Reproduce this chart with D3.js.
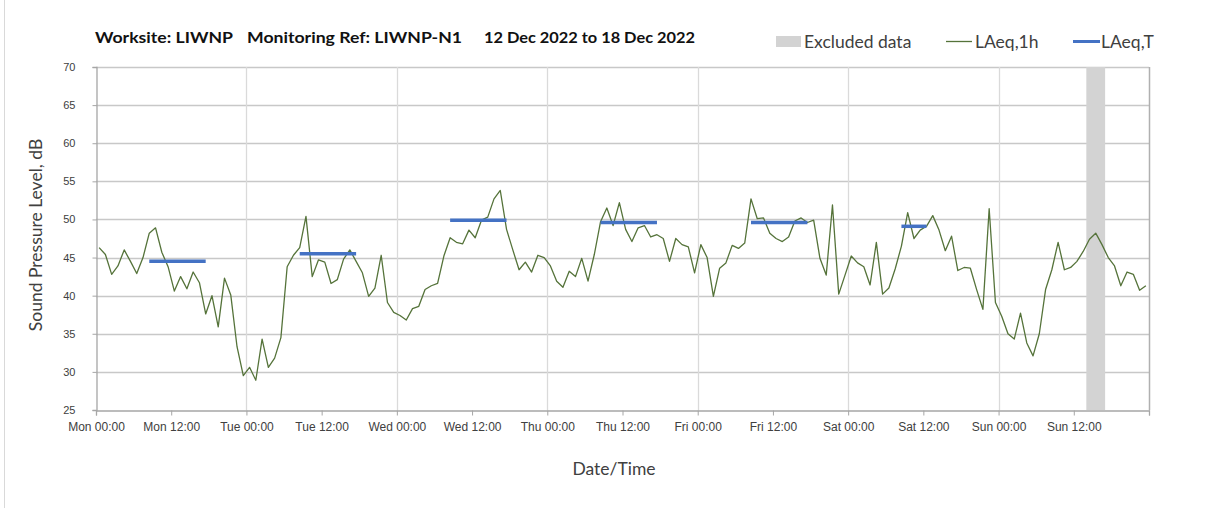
<!DOCTYPE html>
<html>
<head>
<meta charset="utf-8">
<script src="https://cdn.jsdelivr.net/npm/d3@7"></script>
<style>
  body { margin: 0; background: #fff; }
  svg { font-family: Lato, "Open Sans", sans-serif; }
</style>
</head>
<body>
<svg id="chart" width="1208" height="508"></svg>
<script>
// hourly LAeq,1h values, Mon 00:00 -> Sun 23:00
const laeq1h = [
  46.3, 45.4, 42.8, 43.9, 46.0, 44.5, 42.9, 45.0, 48.2, 48.9,
  45.7, 43.8, 40.6, 42.5, 40.9, 43.1, 41.7, 37.6, 40.0, 35.9,
  42.3, 40.1, 33.3, 29.5, 30.6, 28.9, 34.3, 30.6, 31.8, 34.5,
  43.8, 45.3, 46.3, 50.4, 42.5, 44.7, 44.4, 41.6, 42.1, 44.8,
  46.0, 44.5, 43.0, 39.9, 41.0, 45.3, 39.1, 37.8, 37.4, 36.8,
  38.3, 38.6, 40.8, 41.3, 41.6, 45.2, 47.6, 47.0, 46.8, 48.6,
  47.6, 49.9, 50.3, 52.7, 53.8, 48.7, 46.0, 43.4, 44.4, 43.1,
  45.3, 45.0, 43.9, 41.9, 41.1, 43.2, 42.5, 44.9, 41.9, 45.4,
  49.7, 51.5, 49.2, 52.2, 48.7, 47.1, 48.9, 49.2, 47.7, 48.0,
  47.5, 44.5, 47.5, 46.7, 46.4, 43.0, 46.7, 45.0, 39.9, 43.6,
  44.3, 46.6, 46.2, 46.9, 52.7, 50.1, 50.2, 48.2, 47.5, 47.1,
  47.7, 49.8, 50.2, 49.6, 49.9, 44.9, 42.7, 51.9, 40.2, 42.7,
  45.2, 44.3, 43.8, 41.4, 47.0, 40.2, 41.0, 43.5, 46.5, 50.9,
  47.5, 48.6, 49.1, 50.5, 48.6, 45.9, 47.8, 43.3, 43.7, 43.6,
  40.8, 38.2, 51.4, 39.1, 37.3, 35.0, 34.3, 37.7, 33.8, 32.1,
  35.0, 40.8, 43.4, 47.0, 43.4, 43.7, 44.5, 45.8, 47.4, 48.2,
  46.7, 45.0, 43.9, 41.3, 43.1, 42.8, 40.7, 41.3
];

// LAeq,T daytime periods (hours from Mon 00:00)
const laeqTStart = [8.5, 32.5, 56.5, 80.5, 104.5, 128.5];
const laeqTEnd = [17.5, 41.5, 65.5, 89.5, 113.5, 132.5];
const laeqTValues = [44.5, 45.5, 49.9, 49.6, 49.6, 49.1];

// excluded data window (hours)
const excludedStart = [158];
const excludedEnd = [161];

const tickHours = [0, 12, 24, 36, 48, 60, 72, 84, 96, 108, 120, 132, 144, 156];
const tickLabels = ["Mon 00:00", "Mon 12:00", "Tue 00:00", "Tue 12:00", "Wed 00:00", "Wed 12:00",
  "Thu 00:00", "Thu 12:00", "Fri 00:00", "Fri 12:00", "Sat 00:00", "Sat 12:00", "Sun 00:00", "Sun 12:00"];
const dayHours = [24, 48, 72, 96, 120, 144, 168];
const yTicks = [25, 30, 35, 40, 45, 50, 55, 60, 65, 70];

var svg = d3.select('#chart');

var xScale = d3.scaleLinear().domain([0, 168]).range([96, 1149]);
var yScale = d3.scaleLinear().domain([25, 70]).range([410, 67]);

// outer left edge
svg.append("line")
    .attr("x1", 4.5).attr("x2", 4.5)
    .attr("y1", 0).attr("y2", 508)
    .style("stroke", "#d9d9d9");

// horizontal gridlines
svg.append("g")
    .selectAll("line")
    .data(yTicks.slice(1))
    .enter()
    .append("line")
    .attr("x1", xScale(0)).attr("x2", xScale(168))
    .attr("y1", d => Math.round(yScale(d)) + 0.5)
    .attr("y2", d => Math.round(yScale(d)) + 0.5)
    .style("stroke", "#c8c8c8")
    .style("stroke-width", 1.3);

// vertical day gridlines
svg.append("g")
    .selectAll("line")
    .data(dayHours)
    .enter()
    .append("line")
    .attr("x1", d => Math.round(xScale(d)) + 0.5)
    .attr("x2", d => Math.round(xScale(d)) + 0.5)
    .attr("y1", yScale(70)).attr("y2", yScale(25))
    .style("stroke", d => d === 168 ? "#b0b0b0" : "#dadada")
    .style("stroke-width", d => d === 168 ? 1.5 : 1.3);

// excluded data band
svg.append("g")
    .selectAll("rect")
    .data(excludedStart)
    .enter()
    .append("rect")
    .attr("x", (d, i) => xScale(d))
    .attr("width", (d, i) => xScale(excludedEnd[i]) - xScale(d))
    .attr("y", yScale(70))
    .attr("height", yScale(25) - yScale(70))
    .style("fill", "#d3d3d3");

// y axis
var yAxis = d3.axisLeft(yScale).tickValues(yTicks).tickSize(4).tickPadding(17);
var yG = svg.append("g")
    .attr("transform", "translate(96.5, 0)")
    .call(yAxis);
yG.select(".domain").style("stroke", "#a6a6a6").style("stroke-width", 1.3);
yG.selectAll(".tick line").style("stroke", "#a6a6a6");
yG.selectAll("text")
    .style("font-size", "11px")
    .style("fill", "#404040");

// x axis
var xAxis = d3.axisBottom(xScale)
    .tickValues(tickHours.concat([168]))
    .tickSize(5)
    .tickPadding(7)
    .tickFormat((d, i) => tickLabels[i] || "");
var xG = svg.append("g")
    .attr("transform", "translate(0, 410.5)")
    .call(xAxis);
xG.select(".domain").style("stroke", "#a6a6a6").style("stroke-width", 1.3);
xG.selectAll(".tick line").style("stroke", "#a6a6a6");
xG.selectAll("text")
    .style("font-size", "12px")
    .style("fill", "#404040");

// LAeq,1h line
var line = d3.line()
    .x((d, i) => xScale(i + 0.5))
    .y(d => yScale(d));

svg.append("path")
    .datum(laeq1h)
    .attr("d", line)
    .style("fill", "none")
    .style("stroke", "#55733a")
    .style("stroke-width", 1.3)
    .style("stroke-linejoin", "round");

// LAeq,T segments
svg.append("g")
    .selectAll("line")
    .data(laeqTValues)
    .enter()
    .append("line")
    .attr("x1", (d, i) => xScale(laeqTStart[i]))
    .attr("x2", (d, i) => xScale(laeqTEnd[i]))
    .attr("y1", d => yScale(d))
    .attr("y2", d => yScale(d))
    .style("stroke", "#4472c4")
    .style("stroke-width", 3.5);

// title
var titleParts = [
  { text: "Worksite: LIWNP", x: 95, w: 138 },
  { text: "Monitoring Ref: LIWNP-N1", x: 247, w: 215 },
  { text: "12 Dec 2022 to 18 Dec 2022", x: 484, w: 211 }
];
svg.append("g")
    .selectAll("text")
    .data(titleParts)
    .enter()
    .append("text")
    .attr("x", d => d.x)
    .attr("y", 43)
    .attr("textLength", d => d.w)
    .attr("lengthAdjust", "spacingAndGlyphs")
    .style("font-size", "15px")
    .style("font-weight", "bold")
    .style("fill", "#111")
    .text(d => d.text);

// legend
var legend = svg.append("g").style("font-size", "17.5px").style("fill", "#404040");
legend.append("rect")
    .attr("x", 776).attr("y", 36).attr("width", 25).attr("height", 11)
    .style("fill", "#d3d3d3");
legend.append("text").attr("x", 804).attr("y", 48).text("Excluded data");
legend.append("line")
    .attr("x1", 946).attr("x2", 972).attr("y1", 41.5).attr("y2", 41.5)
    .style("stroke", "#55733a").style("stroke-width", 1.3);
legend.append("text").attr("x", 975).attr("y", 48).text("LAeq,1h");
legend.append("line")
    .attr("x1", 1073).attr("x2", 1100).attr("y1", 41.5).attr("y2", 41.5)
    .style("stroke", "#4472c4").style("stroke-width", 3);
legend.append("text").attr("x", 1101).attr("y", 48).text("LAeq,T");

// axis titles
svg.append("text")
    .attr("transform", "translate(42, 235)rotate(-90)")
    .attr("text-anchor", "middle")
    .style("font-size", "17.5px")
    .style("fill", "#404040")
    .text("Sound Pressure Level, dB");

svg.append("text")
    .attr("x", 614)
    .attr("y", 475)
    .attr("text-anchor", "middle")
    .style("font-size", "17.5px")
    .style("fill", "#404040")
    .text("Date/Time");
</script>
</body>
</html>
